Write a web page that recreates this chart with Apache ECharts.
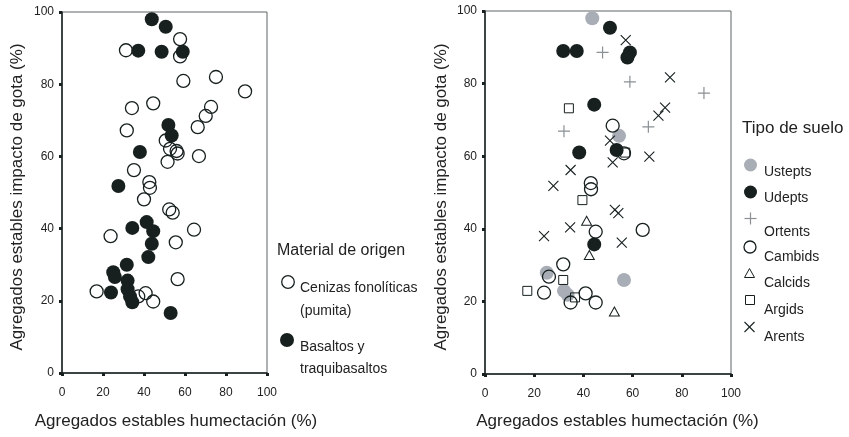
<!DOCTYPE html>
<html>
<head>
<meta charset="utf-8">
<script src="https://cdn.jsdelivr.net/npm/echarts@6/dist/echarts.min.js"></script>
<style>
html,body{margin:0;padding:0;background:#fff;}
#chart{width:849px;height:437px;}
</style>
</head>
<body>
<div id="chart"></div>
<script>
// ---- Data (x = Agregados estables humectación %, y = Agregados estables impacto de gota %) ----
const axisTicks = [0, 20, 40, 60, 80, 100];

// Left panel: Material de origen
const cenizasFonoliticas = [
  [57.6,92.5],[31.2,89.4],[57.6,87.7],[59.2,80.9],[75.1,82.0],[89.3,78.0],[44.5,74.7],[34.1,73.4],
  [72.7,73.7],[70.1,71.2],[66.2,68.1],[31.6,67.2],[50.6,64.4],[52.7,62.1],[55.9,61.5],[56.4,60.8],
  [66.8,60.1],[51.5,58.5],[35.1,56.2],[42.6,52.9],[42.9,51.3],[40.0,48.1],[52.3,45.3],[54.0,44.4],
  [23.7,37.9],[64.4,39.7],[55.5,36.2],[56.4,26.0],[16.9,22.6],[40.8,22.1],[37.2,21.2],[44.5,19.8]
];
const basaltos = [
  [43.8,98.0],[50.6,95.9],[37.2,89.3],[48.6,89.0],[58.9,89.0],[51.9,68.7],[53.5,65.8],[38.0,61.2],
  [27.5,51.8],[41.3,41.8],[34.3,40.2],[44.5,39.3],[43.8,35.8],[42.1,32.1],[31.6,30.0],[25.0,27.9],
  [25.8,26.6],[32.0,25.6],[23.9,22.3],[32.0,23.2],[33.2,21.2],[34.3,19.6],[53.0,16.6]
];

// Right panel: Tipo de suelo
const ustepts = [[43.6,98.0],[54.5,65.6],[25.1,27.9],[32.1,22.9],[33.6,21.8],[56.5,25.9]];
const udepts = [[50.8,95.4],[31.8,89.0],[37.3,89.0],[58.9,88.6],[57.9,87.2],[44.4,74.2],[53.5,61.7],[38.3,61.0],[44.4,35.7]];
const ortents = [[47.8,88.6],[58.9,80.5],[89.0,77.4],[66.4,68.1],[32.1,66.9]];
const cambids = [[51.9,68.4],[56.5,60.8],[43.0,52.6],[43.1,50.9],[45.0,39.2],[64.1,39.7],[31.8,30.2],[26.0,26.8],[24.0,22.4],[34.8,19.7],[40.9,22.2],[45.0,19.7]];
const calcids = [[41.3,42.2],[42.4,32.8],[52.6,17.2]];
const argids = [[34.1,73.2],[57.0,61.0],[39.6,47.9],[31.8,25.9],[17.2,22.9],[36.6,21.1]];
const arents = [[57.2,92.0],[75.2,81.7],[73.2,73.4],[70.5,71.2],[50.8,64.3],[66.8,59.9],[51.9,58.3],[34.8,56.2],[27.8,51.8],[52.8,45.2],[54.2,44.3],[34.6,40.4],[24.0,38.0],[55.6,36.2]];

// ---- Styles ----
const DARK = '#17201f';
const GRAY = '#a9aeb6';
const PLUSGRAY = '#8a9094';
const FONT = '"Liberation Sans", Arial, Helvetica, sans-serif';
const PLUS_PATH = 'path://M0,6H12M6,0V12';
const X_PATH = 'path://M0,0L10,10M10,0L0,10';

function axisBase(gridIndex, isX) {
  return {
    type: 'value', gridIndex: gridIndex,
    min: axisTicks[0], max: axisTicks[axisTicks.length - 1], interval: axisTicks[1] - axisTicks[0],
    axisLine: { show: true, onZero: false, lineStyle: { color: DARK, width: 1.5 } },
    axisTick: { show: true, length: 3, lineStyle: { color: DARK, width: 3 } },
    axisLabel: { fontSize: 12, color: '#222', fontFamily: FONT, margin: isX ? 14 : 8 },
    splitLine: { show: false }
  };
}

const chart = echarts.init(document.getElementById('chart'), null, { renderer: 'canvas' });

function txt(x, y, text, size, extra) {
  const el = {
    type: 'text', x: x, y: y,
    style: { text: text, fontSize: size, fontFamily: FONT, fill: '#222', textAlign: 'left', textVerticalAlign: 'middle' }
  };
  if (extra && extra.center) el.style.textAlign = 'center';
  if (extra && extra.rotation) el.rotation = extra.rotation;
  return el;
}

function scat(name, grid, data, symbol, size, style) {
  return { name: name, type: 'scatter', xAxisIndex: grid, yAxisIndex: grid, data: data,
    symbol: symbol, symbolSize: size, itemStyle: Object.assign({ opacity: 1 }, style),
    emphasis: { disabled: true } };
}

const option = {
  backgroundColor: '#fff',
  animation: false,
  grid: [
    { left: 62, right: 582, top: 12, bottom: 64, show: true, borderColor: '#5e6464', borderWidth: 1 },
    { left: 485, right: 118, top: 11, bottom: 63, show: true, borderColor: '#5e6464', borderWidth: 1 }
  ],
  xAxis: [axisBase(0, true), axisBase(1, true)],
  yAxis: [axisBase(0, false), axisBase(1, false)],
  series: [
    scat('Cenizas fonolíticas (pumita)', 0, cenizasFonoliticas, 'circle', 13,
      { color: 'transparent', borderColor: DARK, borderWidth: 1.3 }),
    scat('Basaltos y traquibasaltos', 0, basaltos, 'circle', 14, { color: DARK }),

    scat('Ustepts', 1, ustepts, 'circle', 14, { color: GRAY }),
    scat('Udepts', 1, udepts, 'circle', 14, { color: DARK }),
    scat('Ortents', 1, ortents, PLUS_PATH, 12, { color: 'transparent', borderColor: PLUSGRAY, borderWidth: 1.2 }),
    scat('Cambids', 1, cambids, 'circle', 13, { color: 'transparent', borderColor: DARK, borderWidth: 1.3 }),
    scat('Calcids', 1, calcids, 'triangle', [10, 9], { color: 'transparent', borderColor: DARK, borderWidth: 1 }),
    scat('Argids', 1, argids, 'rect', 9, { color: 'transparent', borderColor: DARK, borderWidth: 1 }),
    scat('Arents', 1, arents, X_PATH, 10, { color: 'transparent', borderColor: DARK, borderWidth: 1.1 })
  ],
  graphic: [
    // axis names
    txt(176, 421, 'Agregados estables humectación (%)', 17, { center: true }),
    txt(617.5, 421, 'Agregados estables humectación (%)', 17, { center: true }),
    txt(17.5, 197, 'Agregados estables impacto de gota (%)', 17, { center: true, rotation: Math.PI / 2 }),
    txt(441.5, 197, 'Agregados estables impacto de gota (%)', 17, { center: true, rotation: Math.PI / 2 }),

    // left legend
    txt(277, 251, 'Material de origen', 16),
    { type: 'circle', shape: { cx: 288, cy: 282, r: 6.3 }, style: { fill: 'transparent', stroke: DARK, lineWidth: 1.3 } },
    txt(300, 288, 'Cenizas fonolíticas', 14),
    txt(300, 311, '(pumita)', 14),
    { type: 'circle', shape: { cx: 287, cy: 340, r: 7 }, style: { fill: DARK } },
    txt(300, 347, 'Basaltos y', 14),
    txt(300, 369, 'traquibasaltos', 14),

    // right legend
    txt(742, 128, 'Tipo de suelo', 17),
    { type: 'circle', shape: { cx: 750.5, cy: 165, r: 6.5 }, style: { fill: GRAY } },
    txt(764, 172, 'Ustepts', 14),
    { type: 'circle', shape: { cx: 750.5, cy: 192, r: 6.5 }, style: { fill: DARK } },
    txt(764, 198, 'Udepts', 14),
    { type: 'line', shape: { x1: 744.5, y1: 218.5, x2: 756.5, y2: 218.5 }, style: { stroke: PLUSGRAY, lineWidth: 1.2 } },
    { type: 'line', shape: { x1: 750.5, y1: 212.5, x2: 750.5, y2: 224.5 }, style: { stroke: PLUSGRAY, lineWidth: 1.2 } },
    txt(764, 232, 'Ortents', 14),
    { type: 'circle', shape: { cx: 750, cy: 247, r: 6 }, style: { fill: 'transparent', stroke: DARK, lineWidth: 1.3 } },
    txt(764, 257, 'Cambids', 14),
    { type: 'polygon', shape: { points: [[749.5, 268.5], [754.5, 277.5], [744.5, 277.5]] }, style: { fill: 'transparent', stroke: DARK, lineWidth: 1 } },
    txt(764, 283, 'Calcids', 14),
    { type: 'rect', shape: { x: 745.5, y: 295.5, width: 9, height: 9 }, style: { fill: 'transparent', stroke: DARK, lineWidth: 1 } },
    txt(764, 310, 'Argids', 14),
    { type: 'line', shape: { x1: 744.5, y1: 322, x2: 754.5, y2: 332 }, style: { stroke: DARK, lineWidth: 1.1 } },
    { type: 'line', shape: { x1: 754.5, y1: 322, x2: 744.5, y2: 332 }, style: { stroke: DARK, lineWidth: 1.1 } },
    txt(764, 337, 'Arents', 14)
  ]
};
chart.setOption(option);
</script>
</body>
</html>
